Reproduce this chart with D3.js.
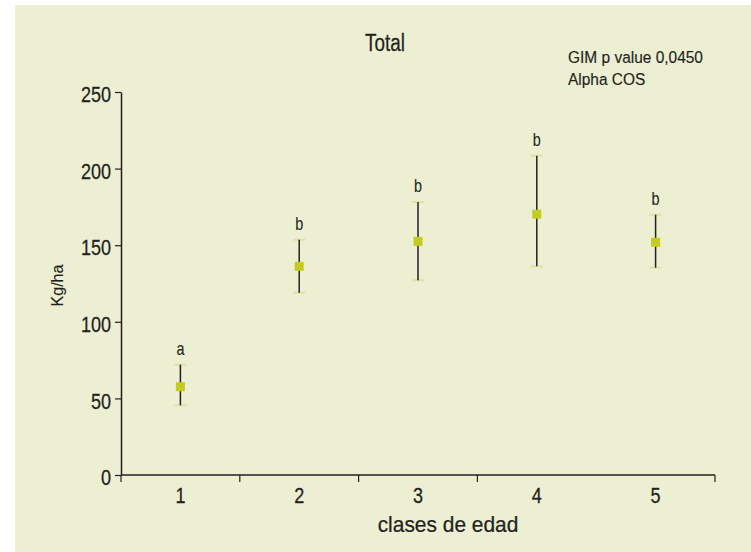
<!DOCTYPE html>
<html>
<head>
<meta charset="utf-8">
<script src="https://cdn.jsdelivr.net/npm/d3@7"></script>
<style>
  html, body { margin: 0; padding: 0; background: #ffffff; }
  svg { display: block; }
  text { font-family: "Liberation Sans", Arial, sans-serif; fill: #231f20; stroke: #231f20; stroke-width: 0.25px; }
</style>
</head>
<body>
<svg id="chart" width="751" height="552"></svg>
<script>
// ---- data ----
const categories = ["1", "2", "3", "4", "5"];
const means      = [57.6, 136.2, 152.5, 170.2, 151.9];
const upper      = [72.0, 153.6, 178.2, 208.4, 169.9];
const lower      = [45.5, 119.0, 127.1, 136.2, 135.3];
const groups     = ["a", "b", "b", "b", "b"];
const yTicks     = [0, 50, 100, 150, 200, 250];
const xTickEdges = [0, 1, 2, 3, 5];   // band boundaries that carry a tick mark
const title = "Total";
const note = ["GIM p value 0,0450", "Alpha COS"];
const xTitle = "clases de edad";
const yTitle = "Kg/ha";

// ---- layout ----
const svg = d3.select("#chart");
const W = 751, H = 552;
const mLeft = 121, mRight = 715, mTop = 92, mBottom = 475;
const ink = "#231f20";

svg.append("rect").attr("x", 15).attr("y", 5).attr("width", W - 15).attr("height", H - 5)
  .attr("fill", "#ecefd2");

// condensed text helper (horizontal squeeze to mimic a condensed face)
function ctext(px, py, str, size, sx, anchor) {
  return svg.append("text")
    .attr("transform", `translate(${px},${py}) scale(${sx},1)`)
    .attr("text-anchor", anchor || "start")
    .attr("font-size", size)
    .text(str);
}

const x = d3.scaleBand().domain(categories).range([mLeft, mRight]).padding(0);
const y = d3.scaleLinear().domain([0, 250]).range([mBottom, mTop]);

// y axis
const tsx = 0.82;
const yAxis = d3.axisLeft(y).tickValues(yTicks).tickSize(6).tickPadding(4).tickSizeOuter(0);
const gy = svg.append("g").attr("transform", `translate(${mLeft},0)`).call(yAxis);
gy.select(".domain").attr("stroke", ink).attr("stroke-width", 1.5);
gy.selectAll(".tick line").attr("stroke", ink).attr("stroke-width", 1.2);
gy.selectAll(".tick text")
  .attr("font-size", 22).attr("fill", ink)
  .attr("font-family", '"Liberation Sans", Arial, sans-serif')
  .attr("x", -10 / tsx).attr("dy", "0.44em")
  .attr("transform", `scale(${tsx},1)`);

// x axis
const edgePos = i => mLeft + i * x.step();
svg.append("line").attr("x1", mLeft).attr("x2", mRight).attr("y1", mBottom).attr("y2", mBottom)
  .attr("stroke", ink).attr("stroke-width", 1.5);
svg.selectAll(".xtick").data(xTickEdges).join("line")
  .attr("class", "xtick")
  .attr("x1", d => edgePos(d)).attr("x2", d => edgePos(d))
  .attr("y1", mBottom).attr("y2", mBottom + 7)
  .attr("stroke", ink).attr("stroke-width", 1.2);
categories.forEach(c => ctext(x(c) + x.bandwidth() / 2, 503, c, 22, tsx, "middle"));

// titles
ctext(448, 532, xTitle, 22.5, 0.93, "middle");
svg.append("text").attr("transform", "translate(63,285.5) rotate(-90)").attr("text-anchor", "middle")
  .attr("font-size", 16).style("stroke-width", "0.1px").text(yTitle);
ctext(385, 51, title, 23, 0.82, "middle");
note.forEach((t, i) => ctext(568, 63 + i * 22, t, 16.3, 0.95, "start").style("stroke-width", "0.15px"));

// error bars
const idx = d3.range(categories.length);
const cx = i => x(categories[i]) + x.bandwidth() / 2;
const capW = 12;
svg.selectAll(".cap-top").data(idx).join("line").attr("class", "cap-top")
  .attr("x1", i => cx(i) - capW / 2).attr("x2", i => cx(i) + capW / 2)
  .attr("y1", i => y(upper[i])).attr("y2", i => y(upper[i]))
  .attr("stroke", "#dce3a6").attr("stroke-width", 2);
svg.selectAll(".cap-bot").data(idx).join("line").attr("class", "cap-bot")
  .attr("x1", i => cx(i) - capW / 2).attr("x2", i => cx(i) + capW / 2)
  .attr("y1", i => y(lower[i])).attr("y2", i => y(lower[i]))
  .attr("stroke", "#dce3a6").attr("stroke-width", 2);
svg.selectAll(".stem").data(idx).join("line").attr("class", "stem")
  .attr("x1", cx).attr("x2", cx)
  .attr("y1", i => y(upper[i])).attr("y2", i => y(lower[i]))
  .attr("stroke", ink).attr("stroke-width", 1.5);
const sq = 9;
svg.selectAll(".pt").data(idx).join("rect").attr("class", "pt")
  .attr("x", i => cx(i) - sq / 2).attr("y", i => y(means[i]) - sq / 2)
  .attr("width", sq).attr("height", sq).attr("fill", "#c3cc1f");
idx.forEach(i => ctext(cx(i), y(upper[i]) - 10, groups[i], 18, 0.8, "middle").style("stroke-width", "0.1px"));
</script>
</body>
</html>
